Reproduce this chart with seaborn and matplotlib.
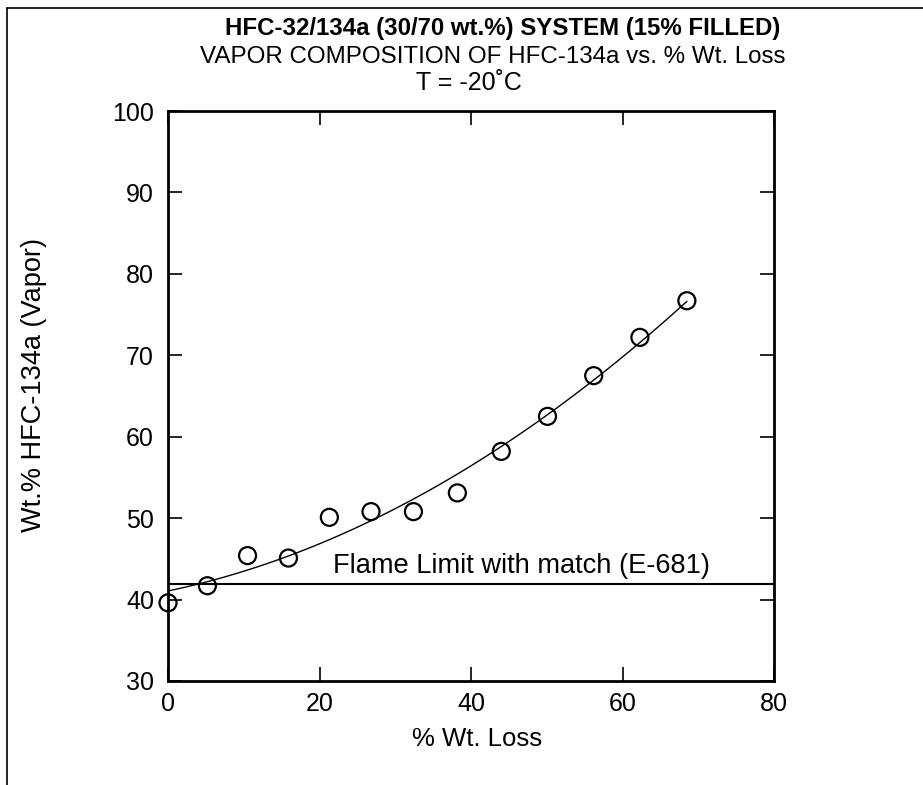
import numpy as np
import pandas as pd
import matplotlib
matplotlib.use("Agg")
import matplotlib.pyplot as plt
import seaborn as sns
from matplotlib.lines import Line2D

# ---- data ----
wt_loss = [0.0, 5.2, 10.5, 15.9, 21.3, 26.8, 32.4, 38.2, 44.0, 50.1, 56.2, 62.3, 68.5]
hfc134a_vapor = [39.6, 41.7, 45.4, 45.1, 50.1, 50.8, 50.8, 53.1, 58.2, 62.5, 67.5, 72.2, 76.7]
flame_limit = 41.9
flame_label = "Flame Limit with match (E-681)"
x_ticks = [0, 20, 40, 60, 80]
y_ticks = [30, 40, 50, 60, 70, 80, 90, 100]
title_lines = ["HFC-32/134a (30/70 wt.%) SYSTEM (15% FILLED)",
               "VAPOR COMPOSITION OF HFC-134a vs. % Wt. Loss",
               "T = -20\u02daC"]
x_label = "% Wt. Loss"
y_label = "Wt.% HFC-134a (Vapor)"

df = pd.DataFrame({"loss": wt_loss, "vapor": hfc134a_vapor})

sns.set_theme(style="ticks")
plt.rcParams["font.family"] = ["Liberation Sans", "DejaVu Sans"]
plt.rcParams["text.color"] = "black"
plt.rcParams["axes.labelcolor"] = "black"
plt.rcParams["xtick.color"] = "black"
plt.rcParams["ytick.color"] = "black"

fig = plt.figure(figsize=(9.23, 7.85), dpi=100)
ax = fig.add_axes([168 / 923, 1 - 681 / 785, 606 / 923, 570 / 785])

# fitted curve
sns.regplot(data=df, x="loss", y="vapor", order=2, ci=None, scatter=False,
            truncate=True, line_kws=dict(color="black", lw=1.0), ax=ax)
# data points
sns.scatterplot(data=df, x="loss", y="vapor", marker="o", s=150,
                facecolor="none", edgecolor="black", linewidth=1.6,
                zorder=5, clip_on=False, ax=ax)

ax.axhline(flame_limit, color="black", lw=1.5)
ax.text(21.8, 43.3, flame_label, fontsize=19.6, va="baseline", ha="left", color="black")

ax.set_xlim(0, 80)
ax.set_ylim(30, 100)
ax.set_xticks(x_ticks)
ax.set_yticks(y_ticks)
ax.tick_params(direction="in", length=10, width=1.2, top=True, right=True,
               labelsize=18, colors="black")
ax.tick_params(axis="x", pad=8)
ax.tick_params(axis="y", pad=10)
for s in ax.spines.values():
    s.set_linewidth(2.0)
    s.set_color("black")

ax.set_xlabel(x_label, fontsize=18.5, color="black")
ax.set_ylabel(y_label, fontsize=19.5, color="black")
ax.xaxis.set_label_coords((477 - 168) / 606, -0.0805)
ax.yaxis.set_label_coords(-0.2, (681 - 385) / 570)

fig.text((226 + 779) / 2 / 923, 1 - 28 / 785, title_lines[0], ha="center", va="center",
         fontsize=17.3, fontweight="bold", color="black")
fig.text((200 + 785) / 2 / 923, 1 - 57 / 785, title_lines[1], ha="center", va="center",
         fontsize=17.4, color="black")
fig.text((408 + 530) / 2 / 923, 1 - 83 / 785, title_lines[2], ha="center", va="center",
         fontsize=18, color="black")

# page frame (left and top edges as in the scan)
fig.add_artist(Line2D([7 / 923, 7 / 923], [0, 1 - 8 / 785], color="black", lw=1.2,
                      transform=fig.transFigure))
fig.add_artist(Line2D([7 / 923, 1], [1 - 8 / 785, 1 - 8 / 785], color="black", lw=1.2,
                      transform=fig.transFigure))

fig.savefig("out.png", dpi=100)
